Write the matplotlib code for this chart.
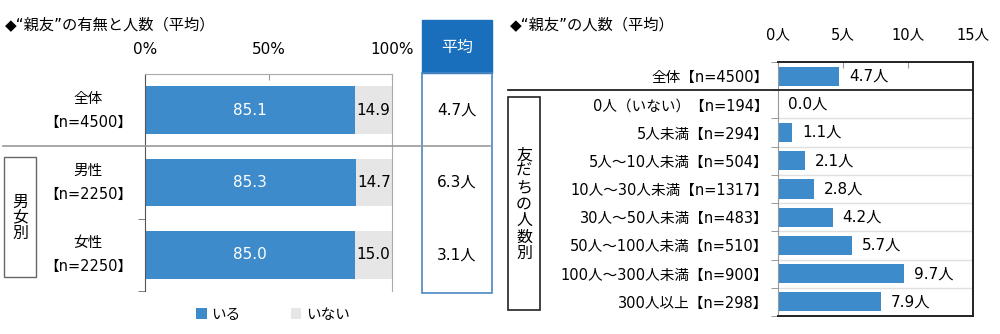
import matplotlib
matplotlib.use("Agg")
import matplotlib.pyplot as plt
from matplotlib.patches import Rectangle
from matplotlib.lines import Line2D

# latin glyphs from DejaVu, kana/kanji fall back to Noto CJK
plt.rcParams['font.family'] = ['DejaVu Sans', 'Noto Sans CJK JP']

# --- data ---
groups = ["全体\n【n=4500】", "男性\n【n=2250】", "女性\n【n=2250】"]
has_friend = [85.1, 85.3, 85.0]
no_friend = [14.9, 14.7, 15.0]
avg_count = [4.7, 6.3, 3.1]

friend_groups = ["全体【n=4500】", "0人（いない）【n=194】", "5人未満【n=294】",
                 "5人～10人未満【n=504】", "10人～30人未満【n=1317】",
                 "30人～50人未満【n=483】", "50人～100人未満【n=510】",
                 "100人～300人未満【n=900】", "300人以上【n=298】"]
best_friends = [4.7, 0.0, 1.1, 2.1, 2.8, 4.2, 5.7, 9.7, 7.9]

BLUE = "#3d8bcb"
GRAY = "#e6e6e6"
HEAD = "#1a6fbd"
W, H = 1000, 334


def fx(x):
    return x / W


def fy(y):
    return 1 - y / H


fig = plt.figure(figsize=(10, 3.34), dpi=100)

# ===== left: 有無と人数 =====
ax1 = fig.add_axes([fx(145), fy(291), fx(392) - fx(145), fy(74) - fy(291)])
ypos = range(len(groups))
b1 = ax1.barh(ypos, has_friend, height=0.66, color=BLUE, label="いる")
b2 = ax1.barh(ypos, no_friend, left=has_friend, height=0.66, color=GRAY, label="いない")
for i in ypos:
    ax1.text(has_friend[i] / 2, i, f"{has_friend[i]:.1f}", color="white",
             ha="center", va="center", fontsize=11)
    ax1.text(has_friend[i] + no_friend[i] / 2, i, f"{no_friend[i]:.1f}", color="black",
             ha="center", va="center", fontsize=11)
ax1.set_xlim(0, 100)
ax1.set_ylim(len(groups) - 0.5, -0.5)
ax1.xaxis.tick_top()
ax1.set_xticks([0, 50, 100], ["0%", "50%", "100%"])
ax1.tick_params(axis="x", direction="in", length=4, color="#999999", pad=12, labelsize=11)
ax1.set_yticks(list(ypos), groups)
ax1.tick_params(axis="y", which="major", length=0, pad=41, labelsize=10.5)
for t in ax1.get_yticklabels():
    t.set_ha("center")
    t.set_va("center")
    t.set_multialignment("center")
    t.set_linespacing(1.75)
ax1.set_yticks([1.5, 2.5], minor=True)
ax1.tick_params(axis="y", which="minor", direction="out", length=5, color="#666666")
for s in ["top", "right"]:
    ax1.spines[s].set_color("#aaaaaa")
ax1.spines["left"].set_color("#555555")
ax1.spines["bottom"].set_visible(False)

# 平均 column
fig.patches.append(Rectangle((fx(422), fy(73)), fx(492) - fx(422), fy(20) - fy(73),
                             transform=fig.transFigure, facecolor=HEAD, edgecolor=HEAD))
fig.patches.append(Rectangle((fx(422), fy(293)), fx(492) - fx(422), fy(73) - fy(293),
                             transform=fig.transFigure, facecolor="none",
                             edgecolor="#4a86c2", lw=1.2))
fig.text(fx(457), fy(47), "平均", color="white", ha="center", va="center", fontsize=11.5)
for i, v in enumerate(avg_count):
    ax1.annotate(f"{v:.1f}人", xy=(fx(457), 0), xycoords=("figure fraction", "data"),
                 xytext=(fx(457), i), textcoords=("figure fraction", "data"),
                 ha="center", va="center", fontsize=11)

# separator and 男女別 box
fig.add_artist(Line2D([fx(3), fx(490)], [fy(146), fy(146)], color="#999999", lw=1.2))
fig.patches.append(Rectangle((fx(4), fy(277)), fx(36) - fx(4), fy(157) - fy(277),
                             transform=fig.transFigure, facecolor="none",
                             edgecolor="#666666", lw=1))
fig.text(fx(20), fy(218), "男\n女\n別", ha="center", va="center", fontsize=11.5,
         linespacing=1.05)

fig.legend(handles=[b1, b2], loc="center", bbox_to_anchor=(fx(273), fy(314)), ncol=2,
           frameon=False, fontsize=10.5, handlelength=0.7, handleheight=0.7,
           handletextpad=0.3, columnspacing=3.5)

fig.text(fx(5), fy(25), "◆“親友”の有無と人数（平均）", ha="left", va="center", fontsize=11)

# ===== right: 親友の人数 =====
ax2 = fig.add_axes([fx(778), fy(316), fx(973) - fx(778), fy(62) - fy(316)])
rows = range(len(friend_groups))
ax2.barh(rows, best_friends, height=0.68, color=BLUE)
for i, v in enumerate(best_friends):
    ax2.annotate(f"{v:.1f}人", xy=(v, i), xytext=(7, 0), textcoords="offset points",
                 ha="left", va="center", fontsize=11)
ax2.set_xlim(0, 15)
ax2.set_ylim(len(friend_groups) - 0.5, -0.5)
ax2.xaxis.tick_top()
ax2.set_xticks([0, 5, 10, 15], ["0人", "5人", "10人", "15人"])
ax2.tick_params(axis="x", direction="in", length=4, color="#999999", pad=14, labelsize=10.5)
ax2.set_yticks(list(rows), friend_groups)
ax2.tick_params(axis="y", which="major", length=0, pad=7, labelsize=10.5)
bounds = [i + 0.5 for i in range(len(friend_groups) - 1)]
ax2.set_yticks([-0.5] + bounds + [len(friend_groups) - 0.5], minor=True)
ax2.tick_params(axis="y", which="minor", direction="out", length=5, color="#888888")
for b in bounds[1:]:
    ax2.axhline(b, color="#e0e0e0", lw=1, zorder=0)
for s in ["top", "right", "bottom"]:
    ax2.spines[s].set_color("#222222")
    ax2.spines[s].set_linewidth(1.4)
ax2.spines["left"].set_color("#999999")

fig.add_artist(Line2D([fx(508), fx(973)], [fy(90), fy(90)], color="#222222", lw=1.3))
fig.patches.append(Rectangle((fx(508), fy(310)), fx(540) - fx(508), fy(97) - fy(310),
                             transform=fig.transFigure, facecolor="none",
                             edgecolor="#222222", lw=1.2))
fig.text(fx(524), fy(204), "友\nだ\nち\nの\n人\n数\n別", ha="center", va="center",
         fontsize=11.5, linespacing=1.12)

fig.text(fx(510), fy(25), "◆“親友”の人数（平均）", ha="left", va="center", fontsize=11)

fig.savefig("out.png", dpi=100)
